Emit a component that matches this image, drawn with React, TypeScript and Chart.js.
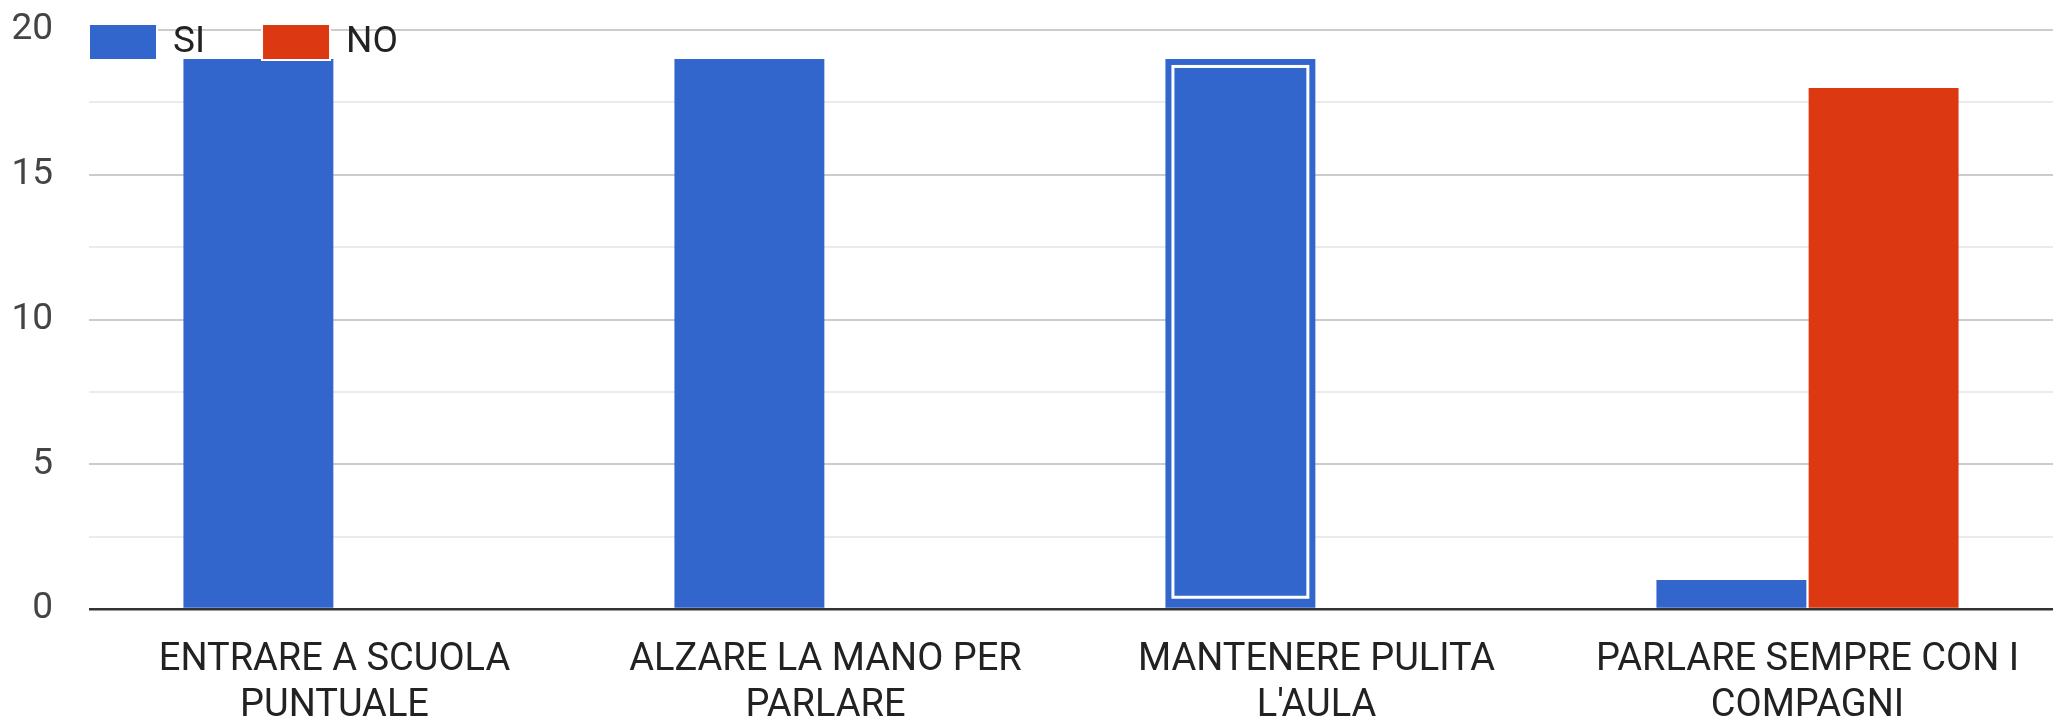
import React, { useEffect, useRef } from "react";
import { Chart, registerables } from "chart.js";
Chart.register(...registerables);

const categories: string[][] = [
  ["ENTRARE A SCUOLA", "PUNTUALE"],
  ["ALZARE LA MANO PER", "PARLARE"],
  ["MANTENERE PULITA", "L'AULA"],
  ["PARLARE SEMPRE CON I", "COMPAGNI"],
];
const seriesNames = ["SI", "NO"];
const siValues = [19, 19, 19, 1];
const noValues = [0, 0, 0, 18];
const seriesColors = ["#3366cc", "#dc3912"];
const yMin = 0;
const yMax = 20;
const yStep = 2.5;
const yLabelStep = 5;
const highlightedBar = { dataset: 0, index: 2 };

const FONT_FAMILY = "Roboto, 'Liberation Sans', Arial, sans-serif";

const highlightPlugin = {
  id: "highlightBar",
  afterDatasetsDraw(chart: any) {
    const meta = chart.getDatasetMeta(highlightedBar.dataset);
    const el = meta.data[highlightedBar.index];
    if (!el) return;
    const { x, y, base, width } = el.getProps(["x", "y", "base", "width"], true);
    const ctx = chart.ctx;
    ctx.save();
    ctx.strokeStyle = "#ffffff";
    ctx.lineWidth = 3;
    ctx.strokeRect(x - width / 2 + 7.5, y + 7.5, width - 15, base - y - 18);
    ctx.restore();
  },
};

const legendPlugin = {
  id: "customLegend",
  afterDraw(chart: any) {
    const ctx = chart.ctx;
    ctx.save();
    ctx.font = `37px ${FONT_FAMILY}`;
    ctx.textBaseline = "middle";
    ctx.textAlign = "left";
    let x = chart.chartArea.left;
    const top = 24;
    const boxW = 68;
    const boxH = 36;
    chart.data.datasets.forEach((ds: any) => {
      ctx.fillStyle = ds.backgroundColor;
      ctx.fillRect(x, top, boxW, boxH);
      ctx.strokeStyle = "#ffffff";
      ctx.lineWidth = 2;
      ctx.strokeRect(x, top, boxW, boxH);
      const tx = x + boxW + 16;
      ctx.fillStyle = "#222222";
      ctx.fillText(ds.label, tx, top + boxH / 2 + 1);
      const w = ctx.measureText(ds.label).width;
      x = tx + w + 57;
    });
    ctx.restore();
  },
};

export default function App() {
  const canvasRef = useRef<HTMLCanvasElement | null>(null);

  useEffect(() => {
    document.body.style.margin = "0";
    const canvas = canvasRef.current;
    if (!canvas) return;
    const chart = new Chart(canvas, {
      type: "bar",
      data: {
        labels: categories,
        datasets: [
          {
            label: seriesNames[0],
            data: siValues,
            backgroundColor: seriesColors[0],
            borderWidth: 0,
          },
          {
            label: seriesNames[1],
            data: noValues,
            backgroundColor: seriesColors[1],
            borderWidth: 0,
          },
        ],
      },
      options: {
        animation: false,
        responsive: false,
        devicePixelRatio: 1,
        layout: { padding: { top: 0, right: 0, bottom: 0, left: 0 } },
        datasets: {
          bar: { categoryPercentage: 0.62, barPercentage: 0.985 },
        },
        plugins: {
          legend: { display: false },
          tooltip: { enabled: false },
        },
        scales: {
          x: {
            grid: { display: false },
            border: { display: false },
            ticks: {
              maxRotation: 0,
              autoSkip: false,
              padding: 21,
              color: "#222222",
              font: { family: FONT_FAMILY, size: 38, lineHeight: 1.21 },
            },
            afterFit: (scale: any) => {
              scale.height = 114;
            },
          },
          y: {
            min: yMin,
            max: yMax,
            border: { display: false },
            grid: {
              drawTicks: false,
              lineWidth: (c: any) => (c.tick && c.tick.value === 0 ? 2.5 : 2),
              color: (c: any) => {
                const v = c.tick ? c.tick.value : 0;
                if (v === 0) return "#333333";
                return v % yLabelStep === 0 ? "#cccccc" : "#ebebeb";
              },
            },
            ticks: {
              stepSize: yStep,
              autoSkip: false,
              padding: 36,
              color: "#444444",
              font: { family: FONT_FAMILY, size: 37 },
              callback: (v: any) => (Number(v) % yLabelStep === 0 ? String(v) : ""),
            },
            afterFit: (scale: any) => {
              scale.width = 89;
              scale.paddingTop = 30;
              scale.paddingBottom = 0;
            },
          },
        },
      },
      plugins: [highlightPlugin, legendPlugin],
    });
    return () => chart.destroy();
  }, []);

  return (
    <div style={{ width: 2053, height: 723, background: "#ffffff" }}>
      <canvas ref={canvasRef} width={2053} height={723} style={{ display: "block" }} />
    </div>
  );
}
